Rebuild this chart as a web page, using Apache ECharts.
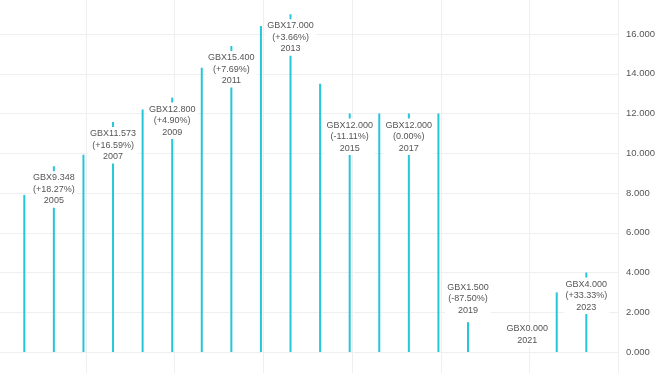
<!DOCTYPE html>
<html>
<head>
<meta charset="utf-8">
<script src="https://cdn.jsdelivr.net/npm/echarts@6/dist/echarts.min.js"></script>
<style>
html,body{margin:0;padding:0;background:#fff;}
#chart{width:663px;height:373px;}
</style>
</head>
<body>
<div id="chart"></div>
<script>
const years = [2004, 2005, 2006, 2007, 2008, 2009, 2010, 2011, 2012, 2013, 2014, 2015, 2016, 2017, 2018, 2019, 2020, 2021, 2022, 2023];
const values = [7.904, 9.348, 9.926, 11.573, 12.202, 12.8, 14.3, 15.4, 16.4, 17.0, 13.5, 12.0, 12.0, 12.0, 12.0, 1.5, 0.0, 0.0, 3.0, 4.0];
const changeLabels = ['', '+18.27%', '', '+16.59%', '', '+4.90%', '', '+7.69%', '', '+3.66%', '', '-11.11%', '', '0.00%', '', '-87.50%', '', '', '', '+33.33%'];
const labelledYears = [2005, 2007, 2009, 2011, 2013, 2015, 2017, 2019, 2021, 2023];
const currency = 'GBX';

const BAR = '#26c6da';
const TEXT = '#555555';
const GRID = '#efefef';
const FONT = 'Liberation Sans';

const data = years.map((y, i) => {
  const v = values[i];
  const show = labelledYears.indexOf(y) >= 0;
  const small = v < 2;
  const lines = [currency + v.toFixed(3)];
  if (changeLabels[i]) lines.push('(' + changeLabels[i] + ')');
  lines.push(String(y));
  return {
    value: [y, v],
    label: {
      show: show,
      position: small ? 'top' : 'insideTop',
      distance: 5,
      formatter: lines.join('\n')
    }
  };
});

const chart = echarts.init(document.getElementById('chart'), null, {renderer: 'canvas'});
chart.setOption({
  animation: false,
  backgroundColor: '#fff',
  grid: [
    {left: 0, right: 45, top: 0, bottom: 21, containLabel: false},
    {left: 0, right: 45, top: 0, bottom: 0, containLabel: false}
  ],
  xAxis: [
    {
      type: 'value', gridIndex: 0, min: 2003.1785, max: 2024.0713,
      axisLine: {show: false}, axisTick: {show: false}, axisLabel: {show: false},
      splitLine: {show: false}
    },
    {
      type: 'value', gridIndex: 1, min: -2.907, max: 17.985, minInterval: 3, maxInterval: 3, splitNumber: 7,
      axisLine: {show: false}, axisTick: {show: false}, axisLabel: {show: false},
      splitLine: {show: true, showMinLine: false, showMaxLine: true, lineStyle: {color: GRID, width: 1}}
    }
  ],
  yAxis: [
    {
      type: 'value', gridIndex: 0, position: 'right', min: 0, max: 17.711, interval: 2,
      axisLine: {show: false}, axisTick: {show: false},
      axisLabel: {
        margin: 8, color: TEXT, fontSize: 9.5, fontFamily: FONT,
        formatter: v => (Math.abs(v % 2) < 1e-9) ? v.toFixed(3) : ''
      },
      splitLine: {show: true, showMaxLine: false, showMinLine: true, lineStyle: {color: GRID, width: 1}}
    },
    {
      type: 'value', gridIndex: 1, min: 0, max: 1, show: false, splitLine: {show: false}
    }
  ],
  series: [{
    type: 'bar',
    xAxisIndex: 0,
    yAxisIndex: 0,
    barWidth: 2,
    z: 3,
    itemStyle: {color: BAR},
    data: data,
    label: {
      color: TEXT, fontSize: 9, fontFamily: FONT, lineHeight: 11.5,
      align: 'center',
      backgroundColor: '#fff', padding: [1, 2],
      textBorderWidth: 0
    },
    markLine: {
      silent: true,
      symbol: 'none',
      lineStyle: {opacity: 0},
      label: {
        position: 'end', distance: 1,
        formatter: p => p.value.toFixed(3),
        backgroundColor: BAR, color: '#333', fontSize: 9.5, fontFamily: FONT,
        padding: [1, 4, 1, 6]
      },
      data: [{yAxis: values[values.length - 1]}]
    }
  }]
});
</script>
</body>
</html>
